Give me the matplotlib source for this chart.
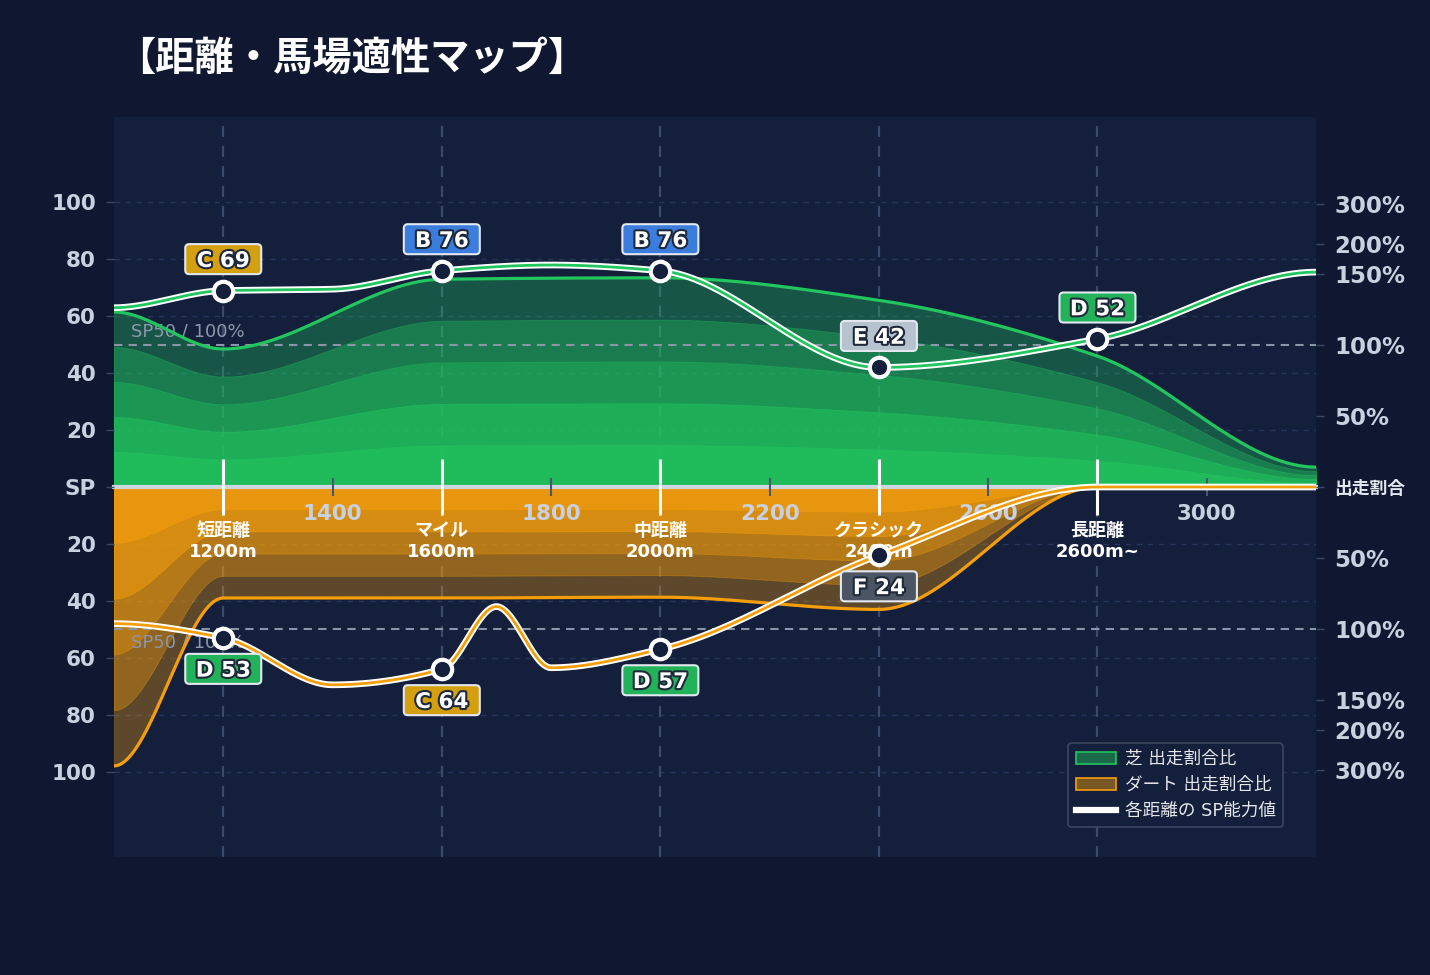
import numpy as np
import matplotlib
matplotlib.use('Agg')
import matplotlib.pyplot as plt
import matplotlib.patheffects as pe
import matplotlib.transforms as mtransforms
from matplotlib.patches import FancyBboxPatch, Patch
from matplotlib.lines import Line2D

plt.rcParams['font.family'] = ['DejaVu Sans', 'Noto Sans CJK JP']

#-------------------------------------------------------------
# values
share_x_lst    = [1000, 1200, 1600, 2000, 2400, 2800, 3200]
turf_share_lst = [61.5, 48.5, 73, 73.5, 65.6, 46, 7]
dirt_share_lst = [98, 39, 39, 38.7, 43, 0, 0]

turf_sp_x_lst  = [1000, 1200, 1400, 1600, 1800, 2000, 2400, 2800, 3200]
turf_sp_lst    = [63, 69, 69.5, 76, 78, 76, 42, 52, 75.5]
dirt_sp_x_lst  = [1000, 1200, 1400, 1600, 1700, 1800, 2000, 2400, 2800, 3200]
dirt_sp_lst    = [48, 53, 69.5, 64, 42, 63.5, 57, 24, 0, 0]

cat_x_lst      = [1200, 1600, 2000, 2400, 2800]
cat_labels_lst = ['短距離\n1200m', 'マイル\n1600m', '中距離\n2000m', 'クラシック\n2400m', '長距離\n2600m~']
minor_x_lst    = [1400, 1800, 2200, 2600, 3000]

turf_grade_lst = ['C', 'B', 'B', 'E', 'D']
turf_score_lst = [69, 76, 76, 42, 52]
dirt_grade_lst = ['D', 'C', 'D', 'F']
dirt_score_lst = [53, 64, 57, 24]

left_ticks_lst   = [-100, -80, -60, -40, -20, 0, 20, 40, 60, 80, 100]
left_labels_lst  = ['100', '80', '60', '40', '20', 'SP', '20', '40', '60', '80', '100']
right_ticks_lst  = [-99.3, -85.5, -75, -50, -25, 0, 25, 50, 75, 85.5, 99.3]
right_labels_lst = ['300%', '200%', '150%', '100%', '50%', '出走割合', '50%', '100%', '150%', '200%', '300%']

GREEN  = '#22c55e'
ORANGE = '#f59e0b'
BG_FIG = '#0f1830'
BG_AX  = '#131f3b'
grade_colors = {'B': '#3b7ddd', 'C': '#d4a00f', 'D': '#22b35a', 'E': '#b6c3cf', 'F': '#4b5563'}

#-------------------------------------------------------------
# monotone cubic through the points, flat at both ends
def smooth(x, y, xs):
	x = np.asarray(x, float)
	y = np.asarray(y, float)
	h = np.diff(x)
	d = np.diff(y) / h
	m = np.zeros_like(y)
	for k in range(1, len(x) - 1):
		if d[k-1] * d[k] > 0:
			w1 = 2*h[k] + h[k-1]
			w2 = h[k] + 2*h[k-1]
			m[k] = (w1 + w2) / (w1/d[k-1] + w2/d[k])
	idx = np.clip(np.searchsorted(x, xs) - 1, 0, len(x) - 2)
	t   = (xs - x[idx]) / h[idx]
	h00 = 2*t**3 - 3*t**2 + 1
	h10 = t**3 - 2*t**2 + t
	h01 = -2*t**3 + 3*t**2
	h11 = t**3 - t**2
	return h00*y[idx] + h10*h[idx]*m[idx] + h01*y[idx+1] + h11*h[idx]*m[idx+1]

#-------------------------------------------------------------
fig = plt.figure(figsize=(14.3, 9.75), dpi=100)
fig.patch.set_facecolor(BG_FIG)
ax = fig.add_axes([0.0797, 0.121, 0.8406, 0.759])
ax.set_facecolor(BG_AX)
ax.set_xlim(1000, 3200)
ax.set_ylim(-130, 130)
ax.set_axisbelow(False)

# grid (under the fills)
for v in left_ticks_lst:
	if v != 0:
		ax.axhline(v, color='#26355a', lw=1, ls=(0, (4, 4)), zorder=0.5)
for v in cat_x_lst:
	ax.axvline(v, color='#3a4a6a', lw=1.6, ls=(0, (5, 4)), zorder=0.6)

xs = np.linspace(1000, 3200, 1100)
turf_env = smooth(share_x_lst, turf_share_lst, xs)
dirt_env = smooth(share_x_lst, dirt_share_lst, xs)
turf_sp  = smooth(turf_sp_x_lst, turf_sp_lst, xs)
dirt_sp  = smooth(dirt_sp_x_lst, dirt_sp_lst, xs)

# layered share areas (brighter towards the centre line)
for f, a in zip([1.0, 0.8, 0.6, 0.4, 0.2], [0.33, 0.35, 0.36, 0.53, 0.59]):
	ax.fill_between(xs, 0, turf_env * f, color=GREEN, alpha=a, lw=0.6, zorder=1)
	ax.fill_between(xs, 0, -dirt_env * f, color=ORANGE, alpha=a, lw=0.6, zorder=1)
ax.plot(xs, turf_env, color=GREEN, lw=2.3, zorder=3)
ax.plot(xs, -dirt_env, color=ORANGE, lw=2.3, zorder=3)

# SP50 / 100% reference
ax.axhline(50, color='#8b95a8', lw=1.5, ls=(0, (4, 3)), zorder=2.2)
ax.axhline(-50, color='#8b95a8', lw=1.5, ls=(0, (4, 3)), zorder=2.2)
ax.text(1031, 51.5, 'SP50 / 100%', color='#8d97aa', fontsize=13, va='bottom', ha='left', zorder=2.3)
ax.text(1031, -51.5, 'SP50 / 100%', color='#8d97aa', fontsize=13, va='top', ha='left', zorder=2.3)

# SP lines
ax.plot(xs, turf_sp, color='white', lw=4.8, zorder=5, solid_capstyle='butt')
ax.plot(xs, turf_sp, color=GREEN, lw=2.0, zorder=6, solid_capstyle='butt')
ax.plot(xs, -dirt_sp, color='white', lw=4.8, zorder=5, solid_capstyle='butt')
ax.plot(xs, -dirt_sp, color=ORANGE, lw=2.0, zorder=6, solid_capstyle='butt')

dirt_x_lst = cat_x_lst[:len(dirt_score_lst)]
ax.plot(cat_x_lst, turf_score_lst, 'o', ms=14, mfc=BG_AX, mec='white', mew=3, zorder=7)
ax.plot(dirt_x_lst, [-s for s in dirt_score_lst], 'o', ms=14, mfc=BG_AX, mec='white', mew=3, zorder=7)

#-------------------------------------------------------------
# grade badges
def badge(x, y, txt, color, dy_in):
	trans = fig.dpi_scale_trans + mtransforms.ScaledTranslation(x, y, ax.transData)
	w, h = 0.76, 0.30
	box = FancyBboxPatch((-w/2, dy_in - h/2), w, h, boxstyle='round,pad=0,rounding_size=0.04',
		fc=color, ec='#e2e8f0', lw=1.5, transform=trans, zorder=8)
	ax.add_patch(box)
	ax.annotate(txt, xy=(x, y), xytext=(0, dy_in*72 - 1.3), textcoords='offset points',
		ha='center', va='center', fontsize=15.5, fontweight='bold', color='white', zorder=9,
		path_effects=[pe.withStroke(linewidth=3, foreground='#1e293b')])

for x, g, s in zip(cat_x_lst, turf_grade_lst, turf_score_lst):
	badge(x, s, f'{g} {s}', grade_colors[g], 0.315)
for x, g, s in zip(dirt_x_lst, dirt_grade_lst, dirt_score_lst):
	badge(x, -s, f'{g} {s}', grade_colors[g], -0.31)

#-------------------------------------------------------------
# axes / ticks
for s in ['top', 'left', 'right']:
	ax.spines[s].set_visible(False)
ax.spines['bottom'].set_position(('data', 0))
ax.spines['bottom'].set_color('#cfd6e0')
ax.spines['bottom'].set_linewidth(3)

ax.set_xticks(cat_x_lst, cat_labels_lst)
ax.set_xticks(minor_x_lst, [str(v) for v in minor_x_lst], minor=True)
ax.tick_params(axis='x', which='major', direction='inout', length=40, width=2.2, color='white',
	labelsize=13, labelcolor='white', pad=5.5)
ax.tick_params(axis='x', which='minor', direction='inout', length=13, width=1.5, color='#4a5670',
	labelsize=15.5, labelcolor='#c8d1df', pad=5.5)
for t in ax.get_xticklabels() + ax.get_xticklabels(minor=True):
	t.set_fontweight('bold')

ax.set_yticks(left_ticks_lst, left_labels_lst)
ax.tick_params(axis='y', direction='out', length=6, width=1, color='#3a4763',
	labelsize=15.5, labelcolor='#c8d1df', pad=7)
for t in ax.get_yticklabels():
	t.set_fontweight('bold')

ax2 = ax.twinx()
ax2.set_ylim(-130, 130)
for s in ax2.spines.values():
	s.set_visible(False)
ax2.set_yticks(right_ticks_lst, right_labels_lst)
ax2.tick_params(axis='y', direction='out', length=6, width=1, color='#3a4763',
	labelsize=16.5, labelcolor='#c8d1df', pad=7)
for t in ax2.get_yticklabels():
	t.set_fontweight('bold')
	if t.get_text() == '出走割合':
		t.set_fontsize(12.8)
		t.set_color('#e2e8f0')

#-------------------------------------------------------------
handles = [Patch(facecolor=(34/255, 197/255, 94/255, 0.45), edgecolor=GREEN, lw=1.2),
	Patch(facecolor=(245/255, 158/255, 11/255, 0.45), edgecolor=ORANGE, lw=1.2),
	Line2D([], [], color='white', lw=4.5)]
leg = ax2.legend(handles, ['芝 出走割合比', 'ダート 出走割合比', '各距離の SP能力値'],
	loc='lower right', bbox_to_anchor=(0.9725, 0.0405), borderaxespad=0, fontsize=12.7,
	facecolor=BG_AX, edgecolor='#3a475f', framealpha=1, labelcolor='#e5e7eb',
	handlelength=2.3, handletextpad=0.5, borderpad=0.4, labelspacing=0.45)
leg.get_frame().set_linewidth(1.2)

fig.text(0.0811, 0.9395, '【距離・馬場適性マップ】', fontsize=28.3, fontweight='bold',
	color='white', va='center', ha='left')

plt.savefig('out.png', dpi=100, facecolor=fig.get_facecolor())
